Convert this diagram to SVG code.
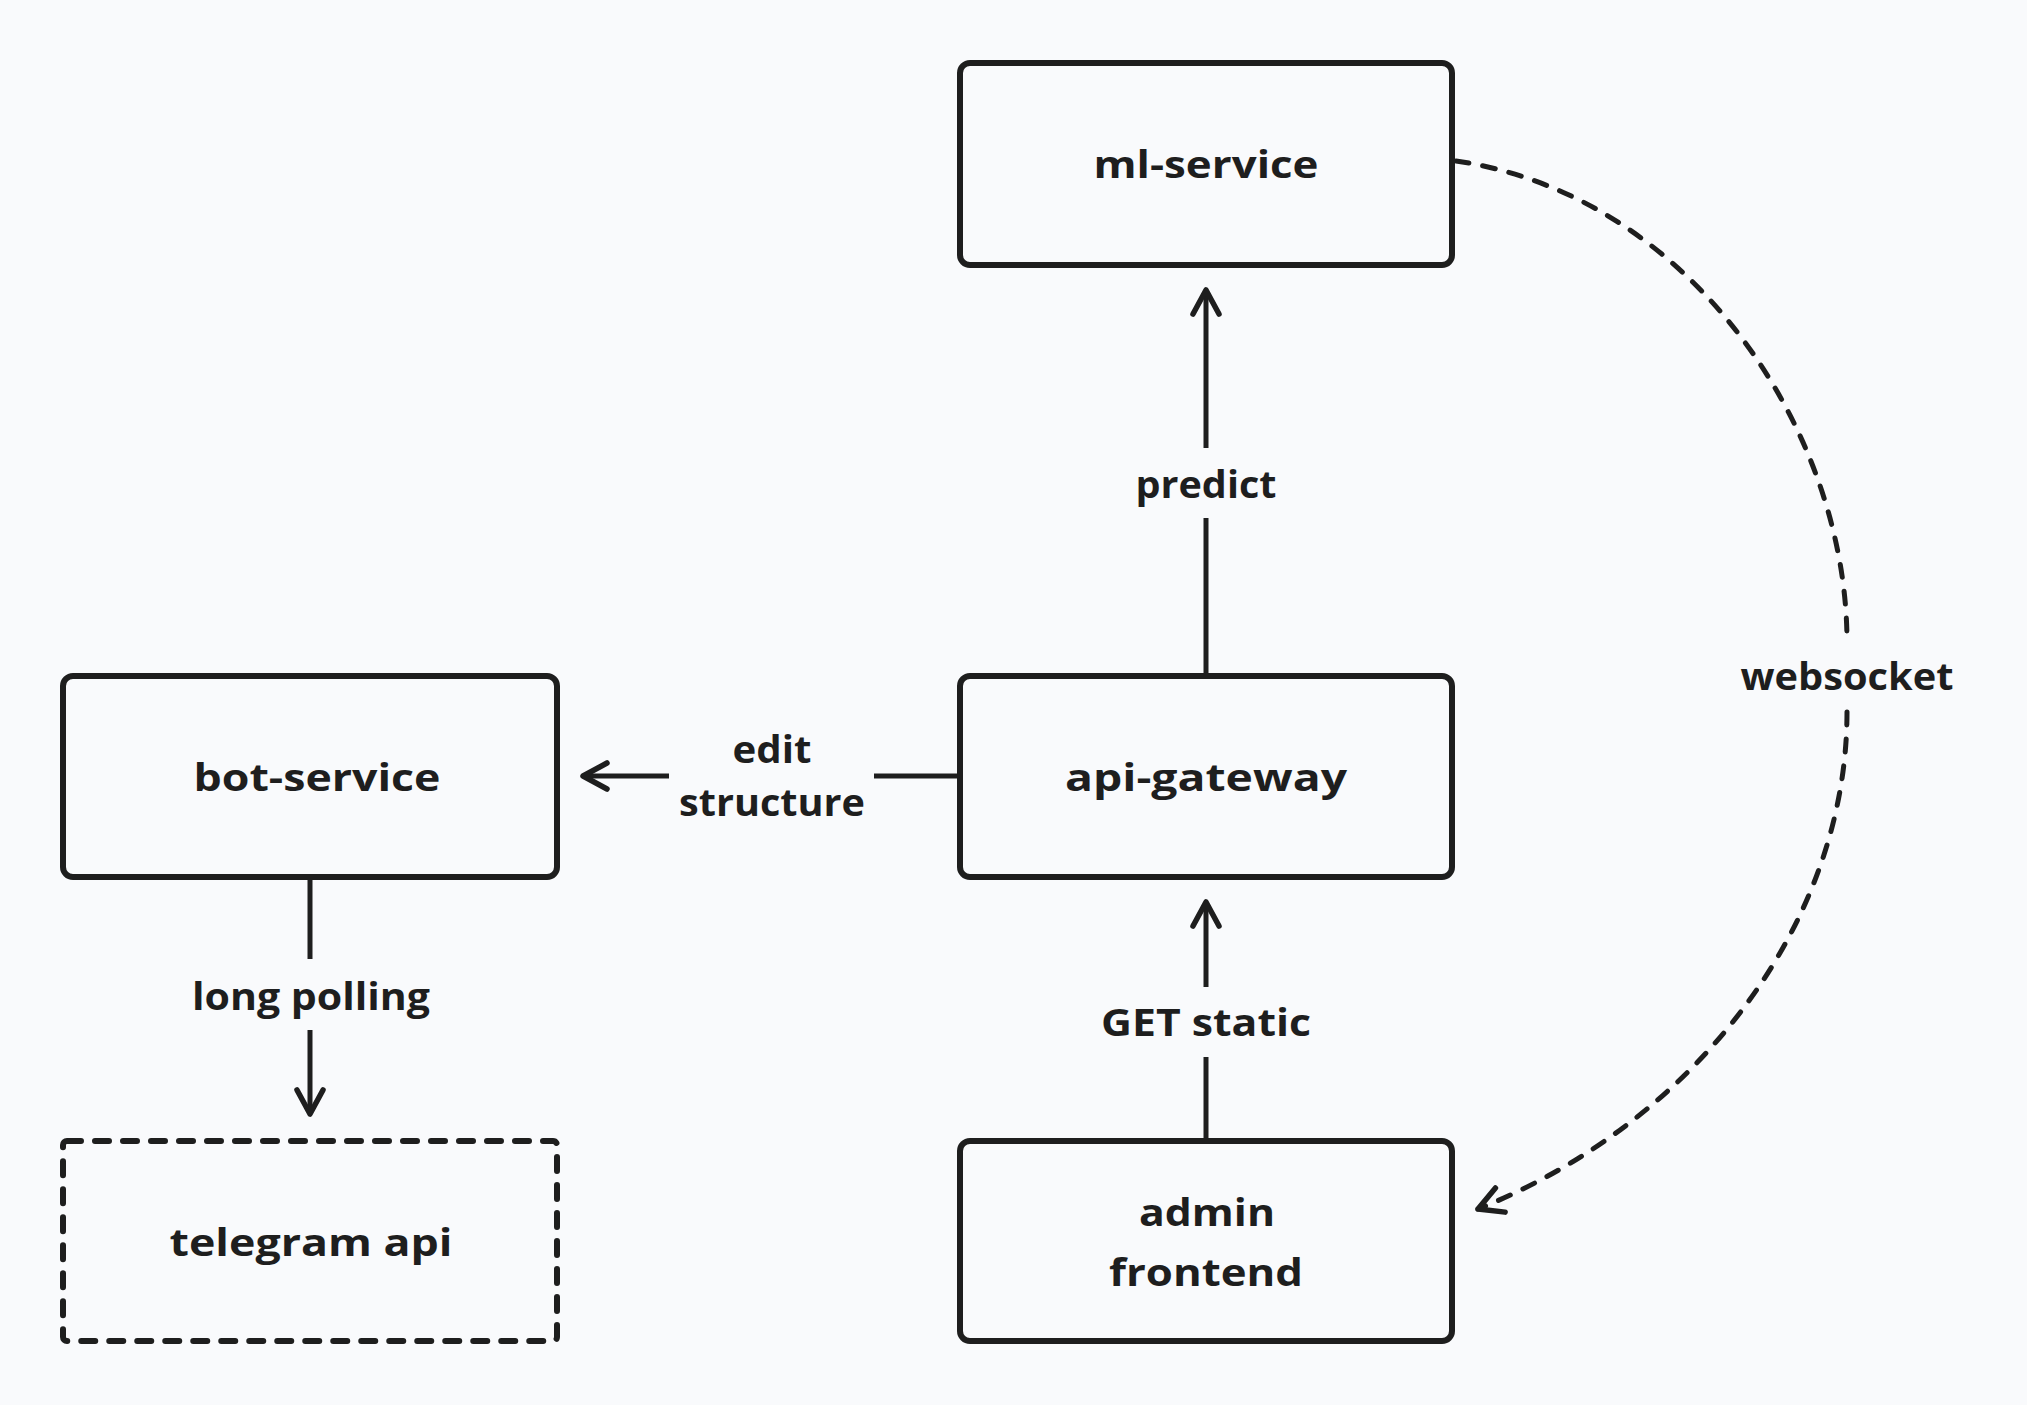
<svg xmlns="http://www.w3.org/2000/svg" width="2027" height="1405" viewBox="0 0 2027 1405">
<style>
.bg{fill:#f9fafc}
.box{fill:#f9fafc;stroke:#1e1e1e;stroke-width:6}
.dash{stroke-dasharray:14 14;stroke-linecap:round}
.ln{fill:none;stroke:#1e1e1e;stroke-width:5}
.dl{stroke-dasharray:13 14;stroke-linecap:round;stroke-width:5}
text{font-family:"Open Sans","Noto Sans",sans-serif;font-weight:700;font-size:38px;fill:#1e1e1e;text-anchor:middle;dominant-baseline:central}
</style>
<defs>
<marker id="ah" markerUnits="userSpaceOnUse" orient="auto" refX="0" refY="0" markerWidth="60" markerHeight="60" viewBox="-30 -30 60 60" overflow="visible">
<path d="M-24,-13 L0,0 L-24,13" fill="none" stroke="#1e1e1e" stroke-width="5.5" stroke-linecap="round" stroke-linejoin="round"/>
</marker>
</defs>
<rect class="bg" x="0" y="0" width="2027" height="1405"/>
<g id="connectors">
<line class="ln" x1="1206" y1="448" x2="1206" y2="290" marker-end="url(#ah)"/>
<line class="ln" x1="1206" y1="675" x2="1206" y2="518"/>
<text x="1206" y="483" textLength="141" lengthAdjust="spacingAndGlyphs">predict</text>
<line class="ln" x1="669" y1="776" x2="583" y2="776" marker-end="url(#ah)"/>
<line class="ln" x1="958" y1="776" x2="874" y2="776"/>
<text x="772" y="748" textLength="79" lengthAdjust="spacingAndGlyphs">edit</text>
<text x="772" y="801" textLength="186" lengthAdjust="spacingAndGlyphs">structure</text>
<line class="ln" x1="310" y1="878" x2="310" y2="959"/>
<line class="ln" x1="310" y1="1030" x2="310" y2="1114" marker-end="url(#ah)"/>
<text x="311" y="995" textLength="238" lengthAdjust="spacingAndGlyphs">long polling</text>
<line class="ln" x1="1206" y1="987" x2="1206" y2="902" marker-end="url(#ah)"/>
<line class="ln" x1="1206" y1="1140" x2="1206" y2="1057"/>
<text x="1206" y="1021" textLength="210" lengthAdjust="spacingAndGlyphs">GET static</text>
<path class="ln dl" d="M1456,161 C1690,195 1847,430 1847,642"/>
<path class="ln dl" d="M1847,712 C1847,920 1700,1120 1478,1209" marker-end="url(#ah)"/>
<text x="1847" y="675" textLength="213" lengthAdjust="spacingAndGlyphs">websocket</text>
</g>
<g id="ml-service">
<rect class="box" x="960" y="63" width="492" height="202" rx="10"/>
<text x="1206" y="163" textLength="225" lengthAdjust="spacingAndGlyphs">ml-service</text>
</g>
<g id="api-gateway">
<rect class="box" x="960" y="676" width="492" height="201" rx="10"/>
<text x="1206" y="776" textLength="282" lengthAdjust="spacingAndGlyphs">api-gateway</text>
</g>
<g id="bot-service">
<rect class="box" x="63" y="676" width="494" height="201" rx="10"/>
<text x="317" y="776" textLength="247" lengthAdjust="spacingAndGlyphs">bot-service</text>
</g>
<g id="telegram-api">
<rect class="box dash" x="63" y="1141" width="494" height="200" rx="4"/>
<text x="311" y="1241" textLength="283" lengthAdjust="spacingAndGlyphs">telegram api</text>
</g>
<g id="admin-frontend">
<rect class="box" x="960" y="1141" width="492" height="200" rx="10"/>
<text x="1207" y="1211" textLength="136" lengthAdjust="spacingAndGlyphs">admin</text>
<text x="1206" y="1271" textLength="194" lengthAdjust="spacingAndGlyphs">frontend</text>
</g>
</svg>
